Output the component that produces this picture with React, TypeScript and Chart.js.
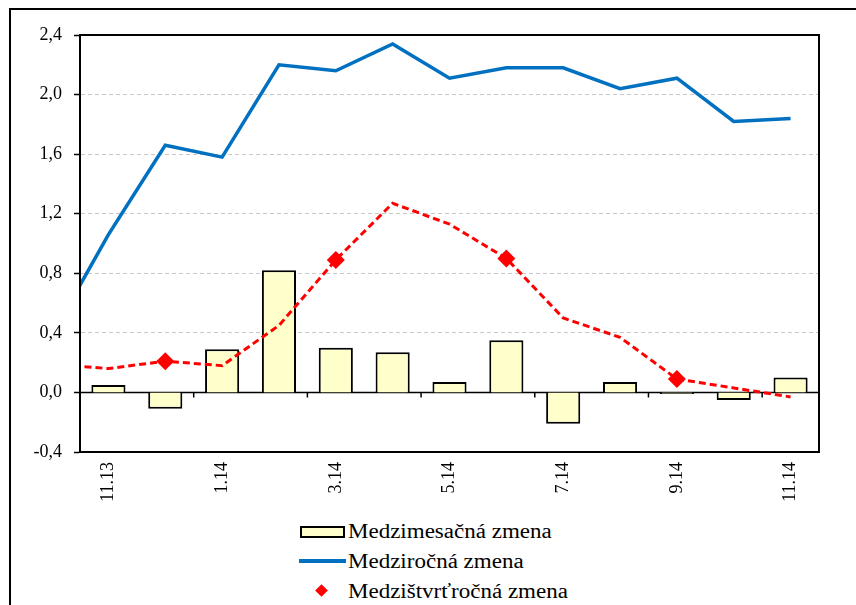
import { useEffect, useRef } from 'react';
import { Chart, registerables } from 'chart.js';

Chart.register(...registerables);

const categories = ['11.13', '12.13', '1.14', '2.14', '3.14', '4.14', '5.14', '6.14', '7.14', '8.14', '9.14', '10.14', '11.14'];
const monthlyChange = [0.05, -0.11, 0.29, 0.82, 0.3, 0.27, 0.07, 0.35, -0.21, 0.07, -0.01, -0.05, 0.1];
const yearlyChange = [1.06, 1.66, 1.58, 2.2, 2.16, 2.34, 2.11, 2.18, 2.18, 2.04, 2.11, 1.82, 1.84];
const yearlyChangePrev = 0.38; // 10.13, only its segment into the plot is visible
const quarterlyChange = [0.16, 0.21, 0.18, 0.45, 0.89, 1.27, 1.13, 0.9, 0.5, 0.37, 0.09, 0.03, -0.03];
const quarterlyChangePrev = 0.19; // 10.13
const seriesNames = ['Medzimesačná zmena', 'Medziročná zmena', 'Medzištvrťročná zmena'];
const yMin = -0.4;
const yMax = 2.4;
const yStep = 0.4;

const SERIF = '"Times New Roman", "Liberation Serif", Tinos, "DejaVu Serif", serif';
const BAR_FILL = '#FFFFCC';
const BLUE = '#0070C0';
const RED = '#FF0000';

const isQuarterEnd = (c: string) => parseInt(c.split('.')[0], 10) % 3 === 0;

const framePlugin = {
  id: 'frame',
  beforeDatasetsDraw(chart: any) {
    const { ctx, chartArea, scales } = chart;
    const { left, right } = chartArea;
    const x = scales.x;
    const y = scales.y;
    const y0 = y.getPixelForValue(0);
    ctx.save();
    ctx.strokeStyle = '#000';
    ctx.lineWidth = 1.5;
    ctx.setLineDash([]);
    ctx.beginPath();
    ctx.moveTo(left, y0);
    ctx.lineTo(right, y0);
    for (let i = 2; i < categories.length; i += 2) {
      const px = x.getPixelForValue(i - 0.5);
      ctx.moveTo(px, y0);
      ctx.lineTo(px, y0 + 5);
    }
    ctx.stroke();
    ctx.restore();
  },
  afterDatasetsDraw(chart: any) {
    const { ctx, chartArea } = chart;
    const { left, right, top, bottom } = chartArea;
    ctx.save();
    ctx.strokeStyle = '#000';
    ctx.lineWidth = 2;
    ctx.setLineDash([]);
    ctx.strokeRect(left, top, right - left, bottom - top);
    ctx.restore();
  },
};

function ChartCanvas() {
  const ref = useRef<HTMLCanvasElement | null>(null);

  useEffect(() => {
    if (!ref.current) return;
    const barData = categories.map((_, i) => ({ x: i, y: monthlyChange[i] }));
    const yearlyData = [{ x: -1, y: yearlyChangePrev }, ...categories.map((_, i) => ({ x: i, y: yearlyChange[i] }))];
    const quarterlyData = [{ x: -1, y: quarterlyChangePrev }, ...categories.map((_, i) => ({ x: i, y: quarterlyChange[i] }))];
    const quarterRadii = [0, ...categories.map((c) => (isQuarterEnd(c) ? 9 : 0))];

    const chart = new Chart(ref.current, {
      type: 'bar',
      data: {
        datasets: [
          {
            type: 'line',
            label: seriesNames[2],
            data: quarterlyData,
            borderColor: RED,
            backgroundColor: RED,
            borderWidth: 3,
            borderDash: [7, 4],
            pointStyle: 'rectRot',
            pointRadius: quarterRadii,
            pointBorderWidth: 0,
            pointBackgroundColor: RED,
            tension: 0,
            order: 0,
          } as any,
          {
            type: 'line',
            label: seriesNames[1],
            data: yearlyData,
            borderColor: BLUE,
            borderWidth: 3.5,
            pointRadius: 0,
            tension: 0,
            order: 1,
          } as any,
          {
            type: 'bar',
            label: seriesNames[0],
            data: barData,
            backgroundColor: BAR_FILL,
            borderColor: '#000',
            borderWidth: 2,
            categoryPercentage: 1,
            barPercentage: 0.6,
            order: 2,
          } as any,
        ],
      },
      options: {
        responsive: false,
        animation: false,
        layout: { padding: { top: 35, right: 37, left: 0, bottom: 0 } },
        plugins: {
          legend: { display: false },
          tooltip: { enabled: false },
        },
        scales: {
          x: {
            type: 'linear',
            min: -0.5,
            max: categories.length - 0.5,
            offset: false,
            afterBuildTicks: (scale: any) => {
              scale.ticks = categories.map((_, i) => i).filter((i) => i % 2 === 0).map((v) => ({ value: v }));
            },
            afterFit: (scale: any) => {
              scale.height = 63;
            },
            grid: { display: false, drawTicks: false },
            border: { display: false },
            ticks: {
              autoSkip: false,
              minRotation: 90,
              maxRotation: 90,
              padding: 10,
              color: '#000',
              font: { family: SERIF, size: 18 },
              callback: (v: any) => categories[Math.round(Number(v))] ?? '',
            },
          },
          y: {
            type: 'linear',
            min: yMin,
            max: yMax,
            afterFit: (scale: any) => {
              scale.width = 80;
            },
            grid: {
              color: (ctx: any) => (Math.abs(ctx.tick?.value ?? 1) < 1e-9 ? 'rgba(0,0,0,0)' : '#C8C8C8'),
              lineWidth: 1,
              borderDash: [4, 3],
              tickBorderDash: [],
              tickColor: '#000',
              tickLength: 6,
              tickWidth: 1.5,
            } as any,
            border: { display: true, color: '#000', width: 2, dash: [4, 3] },
            ticks: {
              stepSize: yStep,
              padding: 12,
              color: '#000',
              font: { family: SERIF, size: 18 },
              callback: (v: any) => {
                const n = Math.abs(Number(v)) < 1e-9 ? 0 : Number(v);
                return n.toFixed(1).replace('.', ',');
              },
            },
          },
        },
      },
      plugins: [framePlugin],
    } as any);

    return () => chart.destroy();
  }, []);

  return <canvas ref={ref} width={856} height={515} style={{ position: 'absolute', left: 0, top: 0 }} />;
}

function Legend() {
  const rowStyle: React.CSSProperties = {
    position: 'absolute',
    left: 299,
    height: 30,
    display: 'flex',
    alignItems: 'center',
    fontFamily: SERIF,
    fontSize: 20,
    color: '#000',
    whiteSpace: 'nowrap',
  };
  const keyStyle: React.CSSProperties = { width: 49, height: 30, position: 'relative', flex: 'none' };
  const textStyle: React.CSSProperties = { display: 'inline-block', transform: 'scaleX(1.15)', transformOrigin: 'left center' };
  return (
    <>
      <div style={{ ...rowStyle, top: 516 }}>
        <div style={keyStyle}>
          <div style={{ position: 'absolute', left: 1, top: 10, width: 41, height: 8, background: BAR_FILL, border: '2px solid #000' }} />
        </div>
        <span style={textStyle}>{seriesNames[0]}</span>
      </div>
      <div style={{ ...rowStyle, top: 546 }}>
        <div style={keyStyle}>
          <div style={{ position: 'absolute', left: 0, top: 13, width: 47, height: 3.5, background: BLUE }} />
        </div>
        <span style={textStyle}>{seriesNames[1]}</span>
      </div>
      <div style={{ ...rowStyle, top: 576 }}>
        <div style={keyStyle}>
          <div style={{ position: 'absolute', left: 18, top: 10, width: 9, height: 9, background: RED, transform: 'rotate(45deg)' }} />
        </div>
        <span style={textStyle}>{seriesNames[2]}</span>
      </div>
    </>
  );
}

export default function App() {
  return (
    <div style={{ position: 'absolute', left: 0, top: 0, width: 856, height: 605, overflow: 'hidden', background: '#fff' }}>
      <div style={{ position: 'absolute', left: 9, top: 8, width: 900, height: 700, borderLeft: '2px solid #000', borderTop: '2px solid #000' }} />
      <ChartCanvas />
      <Legend />
    </div>
  );
}
